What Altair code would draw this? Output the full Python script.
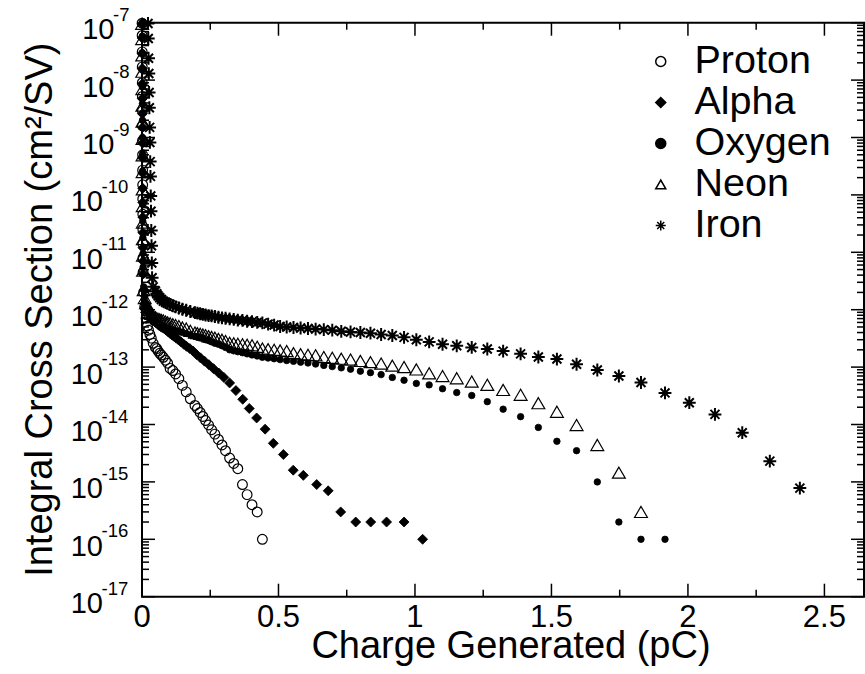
import altair as alt
import pandas as pd

FONT = "Liberation Sans"
SERIES = ["Proton", "Alpha", "Oxygen", "Neon", "Iron"]

# ---------------- data (charge in pC, cross section in cm^2/SV)
proton_x = [0.0003, 0.0005, 0.0007, 0.0009, 0.0011, 0.0013, 0.0015, 0.0017, 0.0019, 0.0021,
            0.0023, 0.0025, 0.0027, 0.0029, 0.0031, 0.0034, 0.0037, 0.0040,
            0.006, 0.010, 0.015, 0.020, 0.024, 0.029, 0.034, 0.041, 0.049, 0.054,
            0.059, 0.065, 0.071, 0.078, 0.086, 0.094, 0.103, 0.113, 0.123, 0.135,
            0.148, 0.162, 0.177, 0.194, 0.203, 0.213, 0.223, 0.233, 0.244, 0.255,
            0.267, 0.280, 0.293, 0.306, 0.321, 0.336, 0.351, 0.368, 0.385, 0.403,
            0.422, 0.441]
proton_y = [9.8e-8, 6.0e-8, 3.1e-8, 1.7e-8, 9.0e-9, 5.2e-9, 2.9e-9, 1.6e-9, 8.8e-10, 5.0e-10,
            2.7e-10, 1.5e-10, 8.5e-11, 4.6e-11, 2.5e-11, 1.4e-11, 8.0e-12, 4.5e-12,
            2.0e-12, 1.12e-12, 7.1e-13, 5.2e-13, 4.4e-13, 3.7e-13, 3.2e-13, 2.6e-13, 2.2e-13, 2.1e-13,
            1.9e-13, 1.74e-13, 1.62e-13, 1.48e-13, 1.32e-13, 1.17e-13, 9.5e-14, 8.7e-14, 7.6e-14, 6.3e-14,
            4.8e-14, 3.7e-14, 2.8e-14, 2.15e-14, 1.9e-14, 1.62e-14, 1.38e-14, 1.17e-14, 9.8e-15, 8.1e-15,
            6.8e-15, 5.5e-15, 4.4e-15, 3.5e-15, 2.6e-15, 2.1e-15, 1.7e-15, 9e-16, 6e-16, 4e-16,
            3e-16, 1e-16]

alpha_x = [0.0004, 0.0006, 0.0008, 0.0010, 0.0012, 0.0014, 0.0016, 0.0018, 0.0020, 0.0022,
           0.0024, 0.0026, 0.0028, 0.0030, 0.0033, 0.0036, 0.0040,
           0.0045, 0.008, 0.011, 0.016, 0.022, 0.026, 0.030, 0.034, 0.039, 0.045,
           0.052, 0.059, 0.063, 0.068, 0.073, 0.078, 0.083, 0.089, 0.095, 0.102,
           0.109, 0.116, 0.125, 0.133, 0.143, 0.153, 0.163, 0.175, 0.187, 0.200,
           0.214, 0.229, 0.245, 0.262, 0.281, 0.300, 0.321, 0.344, 0.369, 0.393,
           0.420, 0.451, 0.481, 0.518, 0.554, 0.591, 0.640, 0.682, 0.728, 0.783,
           0.838, 0.896, 0.960, 1.028]
alpha_y = [9.5e-8, 5.4e-8, 2.9e-8, 1.6e-8, 8.6e-9, 4.8e-9, 2.6e-9, 1.5e-9, 8.0e-10, 4.4e-10,
           2.4e-10, 1.3e-10, 7.4e-11, 4.1e-11, 2.2e-11, 1.2e-11, 7.0e-12,
           4.2e-12, 2.2e-12, 1.3e-12, 1.07e-12, 9.3e-13, 8.7e-13, 7.9e-13, 7.4e-13, 6.9e-13, 6.4e-13,
           5.9e-13, 5.5e-13, 5.3e-13, 5.1e-13, 4.95e-13, 4.8e-13, 4.6e-13, 4.4e-13, 4.15e-13, 3.9e-13,
           3.65e-13, 3.45e-13, 3.2e-13, 3.0e-13, 2.75e-13, 2.5e-13, 2.3e-13, 2.1e-13, 1.9e-13, 1.65e-13,
           1.45e-13, 1.27e-13, 1.1e-13, 9.4e-14, 7.9e-14, 6.6e-14, 5.3e-14, 3.9e-14, 2.75e-14, 1.9e-14,
           1.3e-14, 8.3e-15, 4.7e-15, 3.0e-15, 1.6e-15, 1.3e-15, 9e-16, 7e-16, 3e-16, 2e-16,
           2e-16, 2e-16, 2e-16, 1e-16]

oxygen_x = [0.0005, 0.0007, 0.0009, 0.0011, 0.0013, 0.0015, 0.0017, 0.0019, 0.0021, 0.0023,
            0.0025, 0.0027, 0.0029, 0.0032, 0.0035, 0.0039,
            0.006, 0.010, 0.015, 0.020, 0.024, 0.029, 0.034, 0.041, 0.049, 0.054,
            0.059, 0.065, 0.071, 0.078, 0.086, 0.094, 0.103, 0.113, 0.123, 0.135,
            0.148, 0.162, 0.177, 0.194, 0.203, 0.213, 0.223, 0.233, 0.244, 0.255,
            0.267, 0.280, 0.293, 0.306, 0.321, 0.336, 0.351, 0.368, 0.385, 0.403,
            0.422, 0.441, 0.462, 0.484, 0.506, 0.530, 0.555, 0.581, 0.608, 0.636,
            0.666, 0.697, 0.730, 0.764, 0.800, 0.837, 0.876, 0.917, 0.960, 1.005,
            1.052, 1.101, 1.153, 1.208, 1.265, 1.323, 1.387, 1.452, 1.520, 1.592,
            1.668, 1.747, 1.828, 1.916]
oxygen_y = [1.0e-7, 5.8e-8, 3.0e-8, 1.5e-8, 7.6e-9, 3.9e-9, 2.0e-9, 1.0e-9, 5.2e-10, 2.6e-10,
            1.3e-10, 6.8e-11, 3.5e-11, 1.8e-11, 9.5e-12, 5.5e-12,
            2.5e-12, 1.7e-12, 1.2e-12, 9.5e-13, 8.3e-13, 7.2e-13, 6.7e-13, 6.3e-13, 5.9e-13, 5.7e-13,
            5.5e-13, 5.3e-13, 5.15e-13, 5.0e-13, 4.85e-13, 4.7e-13, 4.6e-13, 4.45e-13, 4.3e-13, 4.15e-13,
            4.0e-13, 3.85e-13, 3.65e-13, 3.45e-13, 3.38e-13, 3.25e-13, 3.15e-13, 3.0e-13, 2.9e-13, 2.75e-13,
            2.6e-13, 2.5e-13, 2.35e-13, 2.2e-13, 2.0e-13, 1.92e-13, 1.85e-13, 1.78e-13, 1.7e-13, 1.63e-13,
            1.56e-13, 1.48e-13, 1.44e-13, 1.4e-13, 1.35e-13, 1.3e-13, 1.26e-13, 1.22e-13, 1.18e-13, 1.13e-13,
            1.07e-13, 1.02e-13, 9.7e-14, 9.2e-14, 8.5e-14, 8.0e-14, 7.4e-14, 6.6e-14, 5.9e-14, 5.2e-14,
            4.9e-14, 4.2e-14, 3.6e-14, 3.2e-14, 2.5e-14, 1.85e-14, 1.37e-14, 8.9e-15, 5.1e-15, 3.5e-15,
            1.0e-15, 2.0e-16, 1.0e-16, 1.0e-16]

neon_x = [0.0004, 0.0006, 0.0008, 0.0010, 0.0012, 0.0014, 0.0016, 0.0018, 0.0020, 0.0022,
          0.0024, 0.0026, 0.0028, 0.0031, 0.0034, 0.0038,
          0.006, 0.010, 0.015, 0.020, 0.024, 0.029, 0.034, 0.041, 0.049, 0.054,
          0.059, 0.065, 0.071, 0.078, 0.086, 0.094, 0.103, 0.113, 0.123, 0.135,
          0.148, 0.162, 0.177, 0.194, 0.203, 0.213, 0.223, 0.233, 0.244, 0.255,
          0.267, 0.280, 0.293, 0.306, 0.321, 0.336, 0.351, 0.368, 0.385, 0.403,
          0.422, 0.441, 0.462, 0.484, 0.506, 0.530, 0.555, 0.581, 0.608, 0.636,
          0.666, 0.697, 0.730, 0.764, 0.800, 0.837, 0.876, 0.917, 0.960, 1.005,
          1.052, 1.101, 1.153, 1.208, 1.265, 1.323, 1.387, 1.452, 1.520, 1.592,
          1.668, 1.747, 1.828]
neon_y = [9.6e-8, 5.2e-8, 2.7e-8, 1.4e-8, 7.0e-9, 3.6e-9, 1.9e-9, 9.5e-10, 4.9e-10, 2.5e-10,
          1.25e-10, 6.4e-11, 3.3e-11, 1.7e-11, 8.8e-12, 4.8e-12,
          2.2e-12, 1.6e-12, 1.3e-12, 1.12e-12, 1.0e-12, 9.1e-13, 8.5e-13, 7.9e-13, 7.4e-13, 7.1e-13,
          6.9e-13, 6.8e-13, 6.6e-13, 6.5e-13, 6.2e-13, 6.0e-13, 5.8e-13, 5.6e-13, 5.4e-13, 5.2e-13,
          4.9e-13, 4.7e-13, 4.3e-13, 4.0e-13, 3.9e-13, 3.8e-13, 3.7e-13, 3.6e-13, 3.45e-13, 3.35e-13,
          3.25e-13, 3.1e-13, 3.0e-13, 2.85e-13, 2.65e-13, 2.6e-13, 2.55e-13, 2.5e-13, 2.45e-13, 2.4e-13,
          2.25e-13, 2.1e-13, 2.05e-13, 2.0e-13, 1.95e-13, 1.9e-13, 1.75e-13, 1.68e-13, 1.64e-13, 1.6e-13,
          1.5e-13, 1.45e-13, 1.4e-13, 1.35e-13, 1.28e-13, 1.22e-13, 1.15e-13, 1.06e-13, 1.0e-13, 9.1e-14,
          7.8e-14, 7.0e-14, 6.4e-14, 5.6e-14, 4.9e-14, 4.0e-14, 3.3e-14, 2.35e-14, 1.67e-14, 9.8e-15,
          4.4e-15, 1.45e-15, 3.0e-16]

iron_x = [0.022, 0.023, 0.024, 0.025, 0.026, 0.027, 0.028, 0.029, 0.030, 0.031,
          0.032, 0.033, 0.034, 0.035, 0.036, 0.037,
          0.041, 0.049, 0.054, 0.059, 0.065, 0.071, 0.078, 0.086, 0.094, 0.103,
          0.113, 0.123, 0.135, 0.148, 0.162, 0.177, 0.194, 0.203, 0.213, 0.223,
          0.233, 0.244, 0.255, 0.267, 0.280, 0.293, 0.306, 0.321, 0.336, 0.351,
          0.368, 0.385, 0.403, 0.422, 0.441, 0.462, 0.484, 0.506, 0.530, 0.555,
          0.581, 0.608, 0.636, 0.666, 0.697, 0.730, 0.764, 0.800, 0.837, 0.876,
          0.917, 0.960, 1.005, 1.052, 1.101, 1.153, 1.208, 1.265, 1.323, 1.387,
          1.452, 1.520, 1.592, 1.668, 1.747, 1.828, 1.916, 2.005, 2.099, 2.199,
          2.300, 2.410]
iron_y = [9.7e-8, 5.3e-8, 2.4e-8, 1.3e-8, 6.1e-9, 3.3e-9, 1.5e-9, 8.2e-10, 3.8e-10, 2.1e-10,
          9.6e-11, 5.2e-11, 2.4e-11, 1.3e-11, 6.5e-12, 3.6e-12,
          2.5e-12, 2.1e-12, 1.9e-12, 1.74e-12, 1.62e-12, 1.51e-12, 1.41e-12, 1.35e-12, 1.29e-12, 1.23e-12,
          1.17e-12, 1.12e-12, 1.07e-12, 1.02e-12, 9.8e-13, 9.3e-13, 8.9e-13, 8.7e-13, 8.5e-13, 8.3e-13,
          8.1e-13, 7.9e-13, 7.8e-13, 7.6e-13, 7.4e-13, 7.2e-13, 7.1e-13, 6.9e-13, 6.8e-13, 6.6e-13,
          6.5e-13, 6.3e-13, 6.2e-13, 6.0e-13, 5.9e-13, 5.6e-13, 5.4e-13, 5.1e-13, 5.0e-13, 4.9e-13,
          4.8e-13, 4.7e-13, 4.6e-13, 4.5e-13, 4.4e-13, 4.2e-13, 4.1e-13, 4.0e-13, 3.9e-13, 3.7e-13,
          3.55e-13, 3.3e-13, 3.0e-13, 2.75e-13, 2.5e-13, 2.35e-13, 2.2e-13, 2.07e-13, 1.9e-13, 1.7e-13,
          1.5e-13, 1.38e-13, 1.12e-13, 8.9e-14, 7.0e-14, 5.4e-14, 3.55e-14, 2.4e-14, 1.5e-14, 7.2e-15,
          2.3e-15, 7.8e-16]

x_major = [0, 0.5, 1, 1.5, 2, 2.5]
x_minor = [0.25, 0.75, 1.25, 1.75, 2.25]
y_exponents = [-7, -8, -9, -10, -11, -12, -13, -14, -15, -16, -17]
x_title = "Charge Generated (pC)"
y_title = "Integral Cross Section (cm²/SV)"

# ---------------- tables built from the arrays
frames = []
for name, xs, ys in [("Proton", proton_x, proton_y), ("Alpha", alpha_x, alpha_y),
                     ("Oxygen", oxygen_x, oxygen_y), ("Neon", neon_x, neon_y),
                     ("Iron", iron_x, iron_y)]:
    assert len(xs) == len(ys), name
    frames.append(pd.DataFrame({"series": name, "charge": xs, "sigma": ys}))
df = pd.concat(frames, ignore_index=True)

labels_df = pd.DataFrame({"val": [10.0 ** e for e in y_exponents],
                          "exp": [str(e) for e in y_exponents]})
y_major = [10.0 ** e for e in y_exponents]
y_minor = [m * 10.0 ** (e - 1) for e in y_exponents[:-1] for m in range(2, 10)]

xt_major = pd.DataFrame({"xv": x_major})
xt_minor = pd.DataFrame({"xv": x_minor})
yt_major = pd.DataFrame({"yv": y_major})
yt_minor = pd.DataFrame({"yv": y_minor})
frame_df = pd.DataFrame({"x0": [0.0], "x1": [2.645], "y0": [1e-17], "y1": [1e-7]})
one_row = pd.DataFrame({"k": [0]})

# ---------------- layout and style
W, H = 722, 574
MAJ, MIN = 13, 7
x_scale = alt.Scale(domain=[0, 2.645], nice=False, zero=False)
y_scale = alt.Scale(type="log", domain=[1e-17, 1e-7], nice=False)

STAR = "M-1,0L1,0M0,-1L0,1M-0.7,-0.7L0.7,0.7M-0.7,0.7L0.7,-0.7"
SHAPES = ["circle", "diamond", "circle", "triangle-up", STAR]
FILLS = ["transparent", "black", "black", "transparent", "transparent"]
MARK_STYLE = {"Proton": (95, 1.2), "Alpha": (100, 0.8), "Oxygen": (42, 0.8),
              "Neon": (165, 1.2), "Iron": (165, 2.0)}

legend = alt.Legend(title=None, orient="none", legendX=499, legendY=19, padding=0,
                    labelFont=FONT, labelFontSize=39.5, labelColor="black",
                    labelOffset=14, rowPadding=0, symbolSize=100)


def series_layer(name):
    size, sw = MARK_STYLE[name]
    return alt.Chart(df).transform_filter(alt.datum.series == name).mark_point(
        filled=True, opacity=1, size=size, strokeWidth=sw).encode(
        x=alt.X("charge:Q", scale=x_scale, axis=None),
        y=alt.Y("sigma:Q", scale=y_scale, axis=None),
        shape=alt.Shape("series:N", scale=alt.Scale(domain=SERIES, range=SHAPES), legend=legend),
        fill=alt.Fill("series:N", scale=alt.Scale(domain=SERIES, range=FILLS), legend=legend),
        stroke=alt.Stroke("series:N", scale=alt.Scale(domain=SERIES, range=["black"] * 5),
                          legend=legend),
    )


point_layers = [series_layer(s) for s in SERIES]

# frame: a hollow rectangle spanning the full domain of both scales
frame = alt.Chart(frame_df).mark_rect(fill=None, stroke="black", strokeWidth=2).encode(
    x=alt.X("x0:Q", scale=x_scale, axis=None), x2="x1:Q",
    y=alt.Y("y0:Q", scale=y_scale, axis=None), y2="y1:Q")


def x_ticks(data, yc, length):
    return alt.Chart(data).mark_tick(orient="vertical", size=length, thickness=1.5,
                                     color="black", opacity=1).encode(
        x=alt.X("xv:Q", scale=x_scale, axis=None), y=alt.value(yc))


def y_ticks(data, xc, length):
    return alt.Chart(data).mark_tick(orient="horizontal", size=length, thickness=1.5,
                                     color="black", opacity=1).encode(
        y=alt.Y("yv:Q", scale=y_scale, axis=None), x=alt.value(xc))


tick_layers = [
    x_ticks(xt_major, H - MAJ / 2, MAJ), x_ticks(xt_minor, H - MIN / 2, MIN),
    x_ticks(xt_major, MAJ / 2, MAJ), x_ticks(xt_minor, MIN / 2, MIN),
    y_ticks(yt_major, MAJ / 2, MAJ), y_ticks(yt_minor, MIN / 2, MIN),
    y_ticks(yt_major, W - MAJ / 2, MAJ), y_ticks(yt_minor, W - MIN / 2, MIN),
]


def label_pair(test, x_ten, x_exp):
    base = alt.Chart(labels_df).transform_filter(test)
    ten = base.mark_text(text="10", align="right", baseline="alphabetic", dy=16.5,
                         font=FONT, fontSize=29, color="black").encode(
        x=alt.value(x_ten), y=alt.Y("val:Q", scale=y_scale, axis=None))
    sup = base.mark_text(align="left", baseline="alphabetic", dy=-2,
                         font=FONT, fontSize=18.5, color="black").encode(
        x=alt.value(x_exp), y=alt.Y("val:Q", scale=y_scale, axis=None), text="exp:N")
    return [ten, sup]


y_labels = label_pair("length(datum.exp) == 2", -27.5, -29) + \
    label_pair("length(datum.exp) == 3", -39, -40.5)

x_labels = alt.Chart(xt_major).mark_text(
    align="center", baseline="top", font=FONT, fontSize=31, color="black").encode(
    x=alt.X("xv:Q", scale=x_scale, axis=None), y=alt.value(H + 6),
    text=alt.Text("xv:Q", format="~g"))

x_title_mark = alt.Chart(one_row).mark_text(
    text=x_title, align="center", baseline="alphabetic", font=FONT, fontSize=38,
    color="black").encode(x=alt.value(W / 2 + 8), y=alt.value(H + 61))

y_title_mark = alt.Chart(one_row).mark_text(
    text=y_title, angle=270, align="center", baseline="alphabetic", font=FONT, fontSize=38,
    color="black").encode(x=alt.value(-90), y=alt.value(H / 2))

chart = alt.layer(*point_layers, frame, *tick_layers, *y_labels, x_labels,
                  x_title_mark, y_title_mark).properties(
    width=W, height=H,
    padding={"left": 142, "top": 22.7, "right": 1, "bottom": 77.3},
    autosize=alt.AutoSizeParams(type="none"),
    background="white",
).configure_view(stroke=None)

chart.save("out.html", embed_options={"renderer": "svg", "actions": False})
